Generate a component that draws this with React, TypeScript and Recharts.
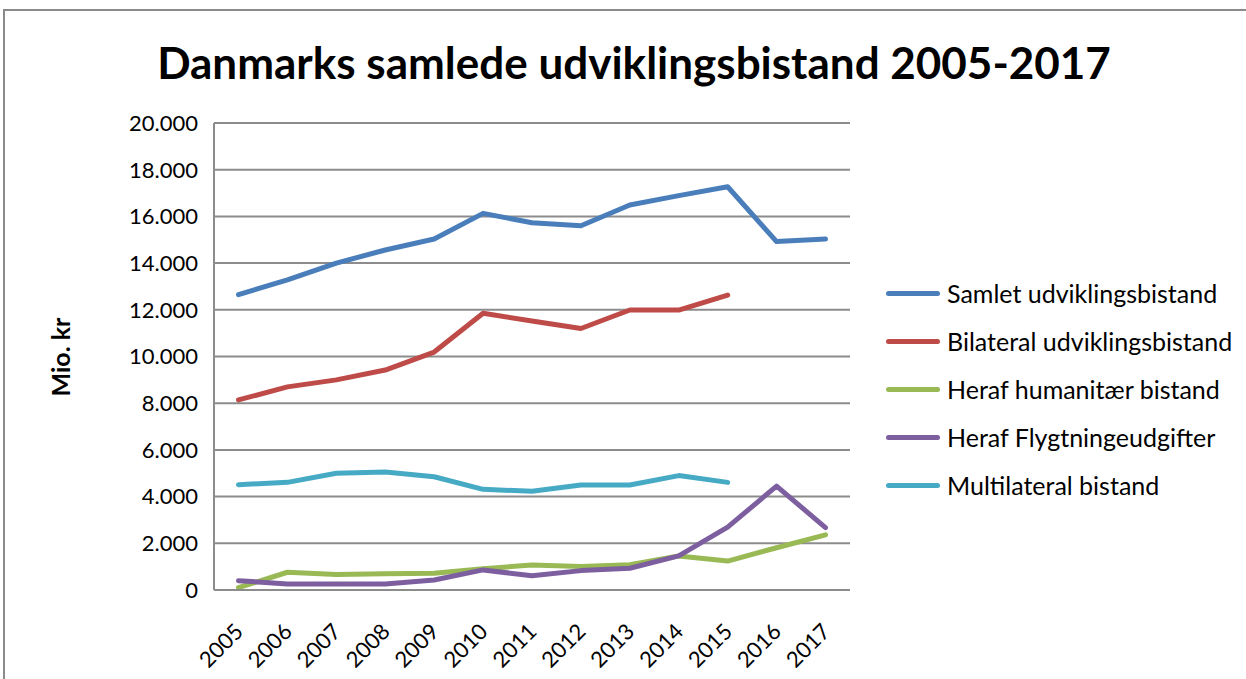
import { CartesianGrid, Line, LineChart, XAxis, YAxis } from "recharts";

const years = ["2005", "2006", "2007", "2008", "2009", "2010", "2011", "2012", "2013", "2014", "2015", "2016", "2017"];
const samlet = [12650, 13280, 14000, 14560, 15030, 16130, 15730, 15600, 16490, 16890, 17270, 14920, 15030];
const bilateral = [8140, 8700, 9000, 9420, 10190, 11850, 11520, 11200, 11990, 11990, 12630, null, null];
const humanitaer = [100, 760, 660, 700, 720, 910, 1070, 1010, 1080, 1460, 1240, 1810, 2360];
const flygtning = [400, 260, 260, 260, 430, 860, 610, 830, 930, 1460, 2690, 4450, 2670];
const multilateral = [4510, 4610, 5000, 5050, 4850, 4310, 4230, 4500, 4500, 4900, 4610, null, null];
const yTicks = [0, 2000, 4000, 6000, 8000, 10000, 12000, 14000, 16000, 18000, 20000];

const series = [
  { key: "samlet", name: "Samlet udviklingsbistand", color: "#4A7EBB", values: samlet },
  { key: "bilateral", name: "Bilateral udviklingsbistand", color: "#BE4B48", values: bilateral },
  { key: "humanitaer", name: "Heraf humanitær bistand", color: "#98B954", values: humanitaer },
  { key: "flygtning", name: "Heraf Flygtningeudgifter", color: "#7D5FA0", values: flygtning },
  { key: "multilateral", name: "Multilateral bistand", color: "#46AAC5", values: multilateral },
];

const data = years.map((year, i) => {
  const row: Record<string, string | number | null> = { year };
  series.forEach((s) => {
    row[s.key] = s.values[i];
  });
  return row;
});

const FONT = "Lato, 'Open Sans', sans-serif";
const GRID = "#8c8c8c";

function fmt(v: number) {
  return String(v).replace(/\B(?=(\d{3})+(?!\d))/g, ".");
}

function YearTick(props: any) {
  const { x, y, payload } = props;
  const tx = x + 6;
  const ty = y + 35;
  return (
    <text x={tx} y={ty} transform={`rotate(-45, ${tx}, ${ty})`} textAnchor="end" fontSize={22} fontFamily={FONT} fill="#000">
      {payload.value}
    </text>
  );
}

export default function App() {
  return (
    <div style={{ position: "absolute", left: 0, top: 0, width: 1246, height: 679, background: "#fff", overflow: "hidden" }}>
      <div style={{ position: "absolute", left: 3, top: 9, width: 1300, height: 720, border: "2px solid #8a8a8a" }} />
      <div
        style={{
          position: "absolute",
          left: 0,
          width: 1268,
          top: 36,
          textAlign: "center",
          fontFamily: FONT,
          fontWeight: 700,
          fontSize: 44,
          color: "#000",
          whiteSpace: "nowrap",
        }}
      >
        Danmarks samlede udviklingsbistand 2005-2017
      </div>
      <div
        style={{
          position: "absolute",
          left: 60,
          top: 357,
          transform: "translate(-50%, -50%) rotate(-90deg)",
          fontFamily: FONT,
          fontWeight: 700,
          fontSize: 25,
          whiteSpace: "nowrap",
        }}
      >
        Mio. kr
      </div>
      <div style={{ position: "absolute", left: 0, top: 0 }}>
        <LineChart width={1246} height={679} data={data} margin={{ top: 123, right: 396, bottom: 0, left: 0 }}>
          <CartesianGrid vertical={false} stroke={GRID} strokeWidth={2} />
          <XAxis
            dataKey="year"
            interval={0}
            tick={<YearTick />}
            tickLine={false}
            axisLine={{ stroke: GRID, strokeWidth: 2 }}
            height={89}
            padding={{ left: 24.5, right: 24.5 }}
          />
          <YAxis
            domain={[0, 20000]}
            ticks={yTicks}
            tickFormatter={fmt}
            width={214}
            tickLine={false}
            tickSize={6}
            tickMargin={10}
            axisLine={{ stroke: GRID, strokeWidth: 2 }}
            tick={{ fontSize: 22, fontFamily: FONT, fill: "#000" }}
            interval={0}
          />
          {series.map((s) => (
            <Line
              key={s.key}
              type="linear"
              dataKey={s.key}
              name={s.name}
              stroke={s.color}
              strokeWidth={5}
              strokeLinecap="round"
              strokeLinejoin="round"
              dot={false}
              activeDot={false}
              isAnimationActive={false}
            />
          ))}
        </LineChart>
      </div>
      <div style={{ position: "absolute", left: 886, top: 269 }}>
        {series.map((s) => (
          <div key={s.key} style={{ display: "flex", alignItems: "center", height: 48 }}>
            <div style={{ width: 54, height: 5, borderRadius: 3, background: s.color, marginRight: 7 }} />
            <span style={{ fontFamily: FONT, fontSize: 25, color: "#000", whiteSpace: "nowrap" }}>{s.name}</span>
          </div>
        ))}
      </div>
    </div>
  );
}
